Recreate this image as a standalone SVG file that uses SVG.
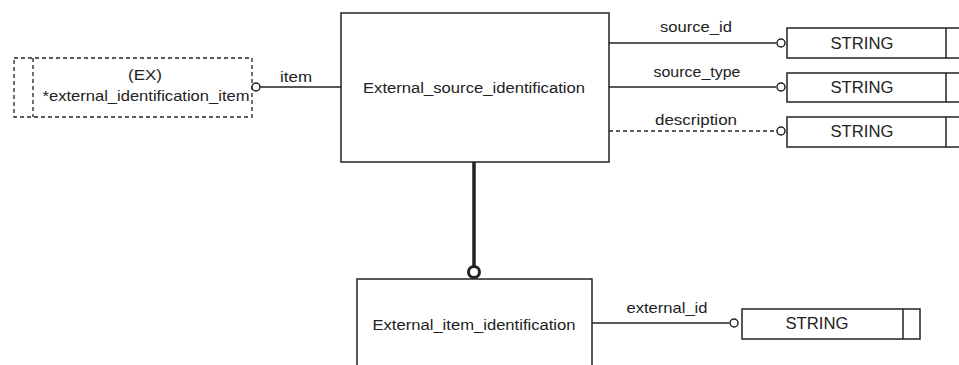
<svg xmlns="http://www.w3.org/2000/svg" width="959" height="365" viewBox="0 0 959 365">
<style>
text{font-family:"Liberation Sans",Arial,sans-serif;fill:#222;text-anchor:middle;}
.n{font-size:15.5px;}
.l{font-size:14.5px;}
.s{font-size:16px;}
.box{fill:#fff;stroke:#222;stroke-width:1.5;}
.ln{fill:none;stroke:#222;stroke-width:1.5;}
.dash{fill:none;stroke:#222;stroke-width:1.3;stroke-dasharray:4,3;}
.c{fill:#fff;stroke:#222;stroke-width:1.5;}
</style>
<rect width="959" height="365" fill="#fff"/>
<g id="connectors">
<line class="ln" x1="260" y1="87" x2="341" y2="87"/>
<text class="l" x="296" y="82" textLength="32" lengthAdjust="spacingAndGlyphs">item</text>
<line class="ln" x1="609" y1="43" x2="776" y2="43"/>
<text class="l" x="696" y="32" textLength="72" lengthAdjust="spacingAndGlyphs">source_id</text>
<line class="ln" x1="609" y1="87" x2="776" y2="87"/>
<text class="l" x="697" y="77" textLength="87" lengthAdjust="spacingAndGlyphs">source_type</text>
<line class="dash" x1="609" y1="131" x2="776" y2="131"/>
<text class="l" x="696" y="125" textLength="82" lengthAdjust="spacingAndGlyphs">description</text>
<line x1="474" y1="162" x2="474" y2="267" stroke="#222" stroke-width="3.5"/>
<circle cx="474" cy="272" r="5.5" fill="#fff" stroke="#222" stroke-width="3"/>
<line class="ln" x1="592" y1="323" x2="729" y2="323"/>
<text class="l" x="667" y="313" textLength="81" lengthAdjust="spacingAndGlyphs">external_id</text>
</g>
<g id="ex_item">
<rect x="14" y="58" width="238" height="59" fill="#fff" stroke="#222" stroke-width="1.3" stroke-dasharray="4,3"/>
<line class="dash" x1="33" y1="58" x2="33" y2="117"/>
<text class="l" x="145" y="80" textLength="34" lengthAdjust="spacingAndGlyphs">(EX)</text>
<text class="l" x="146" y="101" textLength="207" lengthAdjust="spacingAndGlyphs">*external_identification_item</text>
<circle class="c" cx="256" cy="87" r="4"/>
</g>
<g id="external_source_identification">
<rect class="box" x="341" y="13" width="268" height="149"/>
<text class="n" x="474" y="93" textLength="222" lengthAdjust="spacingAndGlyphs">External_source_identification</text>
</g>
<g id="string1">
<rect class="box" x="787" y="28" width="180" height="30"/>
<line class="ln" x1="946" y1="28" x2="946" y2="58"/>
<text class="s" x="862" y="49" textLength="63" lengthAdjust="spacingAndGlyphs">STRING</text>
<circle class="c" cx="781" cy="43" r="4"/>
</g>
<g id="string2">
<rect class="box" x="787" y="73" width="180" height="29"/>
<line class="ln" x1="946" y1="73" x2="946" y2="102"/>
<text class="s" x="862" y="93" textLength="63" lengthAdjust="spacingAndGlyphs">STRING</text>
<circle class="c" cx="781" cy="87" r="4"/>
</g>
<g id="string3">
<rect class="box" x="787" y="117" width="180" height="30"/>
<line class="ln" x1="946" y1="117" x2="946" y2="147"/>
<text class="s" x="862" y="137" textLength="63" lengthAdjust="spacingAndGlyphs">STRING</text>
<circle class="c" cx="781" cy="131" r="4"/>
</g>
<g id="external_item_identification">
<rect class="box" x="357" y="279" width="235" height="100"/>
<text class="n" x="474" y="330" textLength="203" lengthAdjust="spacingAndGlyphs">External_item_identification</text>
</g>
<g id="string4">
<rect class="box" x="742" y="309" width="178" height="30"/>
<line class="ln" x1="903" y1="309" x2="903" y2="339"/>
<text class="s" x="817" y="329" textLength="63" lengthAdjust="spacingAndGlyphs">STRING</text>
<circle class="c" cx="734" cy="323" r="4"/>
</g>
</svg>
